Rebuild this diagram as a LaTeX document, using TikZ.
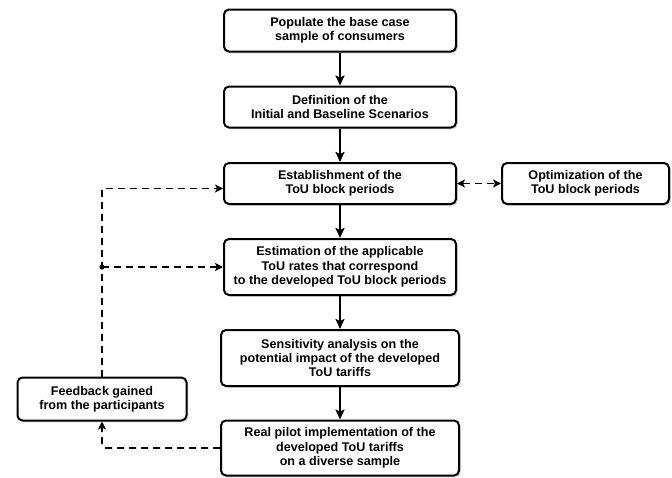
\documentclass[tikz,border=0pt]{standalone}
\usepackage{fontspec}
\setmainfont{Liberation Sans}
\usepackage{tikz}
\usetikzlibrary{arrows.meta,shadows}

\begin{document}
\begin{tikzpicture}[x=1pt, y=-1pt,
		stepbox/.style={draw, line width=2pt, rounded corners=5pt, fill=white, align=center,
			inner sep=0pt, font=\bfseries\fontsize{12.6}{14.4}\selectfont,
			drop shadow={shadow xshift=1.8pt, shadow yshift=-1.8pt, fill=black!30}},
		flow/.style={line width=2pt, -{Stealth[length=10pt, width=9pt, inset=2pt]}},
		dasharrow/.style={line width=1.8pt, dash pattern=on 7pt off 5pt, -{Stealth[length=8pt, width=8pt, inset=2pt]}}]
		\useasboundingbox (0,0) rectangle (672,477);
		% main column
		\node[stepbox, minimum width=232pt, minimum height=42pt] (populate) at (340,30.5)
			{Populate the base case\\sample of consumers};
		\node[stepbox, minimum width=232pt, minimum height=41pt] (scenarios) at (340,107)
			{Definition of the\\Initial and Baseline Scenarios};
		\node[stepbox, minimum width=232pt, minimum height=41pt] (periods) at (340,183.5)
			{Establishment of the\\ToU block periods};
		\node[stepbox, minimum width=232pt, minimum height=56pt] (rates) at (340,267)
			{Estimation of the applicable\\ToU rates that correspond\\to the developed ToU block periods};
		\node[stepbox, minimum width=238pt, minimum height=56pt] (sensitivity) at (340,358)
			{Sensitivity analysis on the\\potential impact of the developed\\ToU tariffs};
		\node[stepbox, minimum width=238pt, minimum height=55pt] (pilot) at (340,448)
			{Real pilot implementation of the\\developed ToU tariffs\\on a diverse sample};
		% side boxes
		\node[stepbox, minimum width=167pt, minimum height=41pt] (optimization) at (585.5,183.5)
			{Optimization of the\\ToU block periods};
		\node[stepbox, minimum width=169pt, minimum height=43pt] (feedback) at (102,399)
			{Feedback gained\\from the participants};
		% solid flow
		\draw[flow] (populate) -- (scenarios);
		\draw[flow] (scenarios) -- (periods);
		\draw[flow] (periods) -- (rates);
		\draw[flow] (rates) -- (sensitivity);
		\draw[flow] (sensitivity) -- (pilot);
		% feedback loop
		\draw[dasharrow, {Stealth[length=8pt, width=8pt, inset=2pt]}-{Stealth[length=8pt, width=8pt, inset=2pt]}] (periods) -- (optimization);
		\draw[dasharrow, rounded corners=4pt] (pilot.west) -| (feedback.south);
		\coordinate (split) at (feedback.north |- rates.west);
		\draw[dasharrow] (feedback.north) |- ([yshift=-5pt]periods.west);
		\draw[dasharrow] (split) -- (rates.west);
		\fill (split) circle (2.6pt);
	\end{tikzpicture}
\end{document}
